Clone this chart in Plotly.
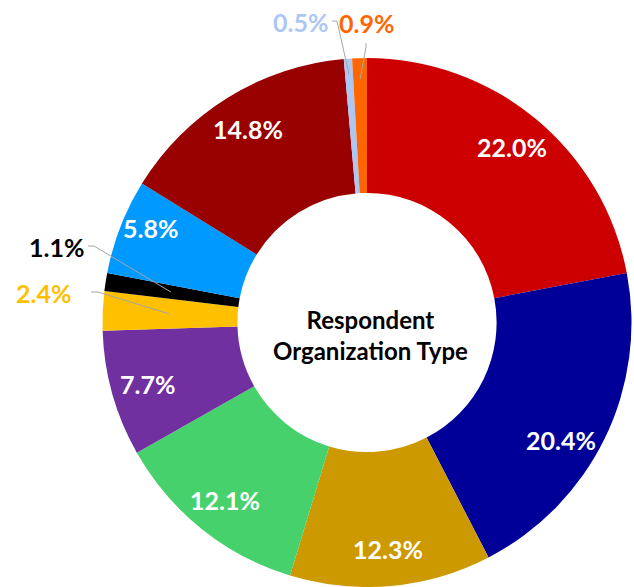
import math
import plotly.graph_objects as go

# Share of respondents by organization type (clockwise from 12 o'clock)
shares = [22.0, 20.4, 12.3, 12.1, 7.7, 2.4, 1.1, 5.8, 14.8, 0.5, 0.9]
slice_colors = ["#CC0000", "#000099", "#CC9900", "#47D16C", "#7030A0", "#FFC000",
                "#000000", "#0099FF", "#990000", "#ADC7F5", "#FF6600"]
# Small slices get their label outside with a leader line
outside = [False, False, False, False, False, True, True, False, False, True, True]

W, H = 634, 587
CX, CY, R = 367.0, 322.5, 264.5   # pie centre / radius in pixels
HOLE = 0.49

fig = go.Figure()
fig.add_trace(go.Pie(
    values=shares,
    marker=dict(colors=slice_colors, line=dict(width=0)),
    hole=HOLE,
    sort=False,
    direction="clockwise",
    rotation=0,
    textinfo="none",
    hoverinfo="skip",
    showlegend=False,
    domain=dict(x=[(CX - R) / W, (CX + R) / W], y=[0, 1 - (CY - R) / H]),
))

# mid angle (deg clockwise from top) of each slice
mids = []
acc = 0.0
total = sum(shares)
for v in shares:
    mids.append((acc + v / 2) / total * 360.0)
    acc += v


def polar(angle_deg, r):
    a = math.radians(angle_deg)
    return CX + r * math.sin(a), CY - r * math.cos(a)


# small pixel nudges for the inside labels
nudges = {1: (-11, 18), 7: (-4, -12)}
# outside label placements: (text centre, leader start, elbow, tip radius factor)
outside_pos = {
    5: ((43, 293), (91, 292), (98, 292), 0.75),
    6: ((56, 247), (88, 246), (94, 246), 0.75),
    9: ((300, 22), (332, 21), (337, 21), 0.94),
    10: ((366, 23), (366, 43), (366, 47), 0.92),
}

font_family = "Lato, Open Sans, sans-serif"
annotations = []
shapes = []
for i, v in enumerate(shares):
    label = f"{v:.1f}%"
    if not outside[i]:
        x, y = polar(mids[i], 0.86 * R)
        dx, dy = nudges.get(i, (0, 0))
        annotations.append(dict(x=x + dx, y=y + dy, text=label, showarrow=False,
                                xref="x", yref="y",
                                font=dict(family=font_family, size=25, color="white",
                                          weight="bold")))
    else:
        (tx, ty), start, elbow, rf = outside_pos[i]
        tip = polar(mids[i], rf * R)
        path = (f"M {start[0]} {start[1]} L {elbow[0]} {elbow[1]} "
                f"L {tip[0]:.2f} {tip[1]:.2f}")
        shapes.append(dict(type="path", path=path, xref="x", yref="y",
                           layer="above", line=dict(color="#A6A6A6", width=1)))
        annotations.append(dict(x=tx, y=ty, text=label, showarrow=False,
                                xref="x", yref="y",
                                font=dict(family=font_family, size=25,
                                          color=slice_colors[i], weight="bold")))

annotations.append(dict(x=CX + 3, y=CY + 12, text="Respondent<br>Organization Type",
                        showarrow=False, xref="x", yref="y",
                        font=dict(family=font_family, size=24, color="black",
                                  weight="bold")))

fig.update_layout(
    width=W, height=H,
    margin=dict(l=0, r=0, t=0, b=0),
    paper_bgcolor="white", plot_bgcolor="rgba(0,0,0,0)",
    xaxis=dict(range=[0, W], domain=[0, 1], visible=False, fixedrange=True),
    yaxis=dict(range=[H, 0], domain=[0, 1], visible=False, fixedrange=True),
    annotations=annotations,
    shapes=shapes,
)

fig.write_html("out.html")
